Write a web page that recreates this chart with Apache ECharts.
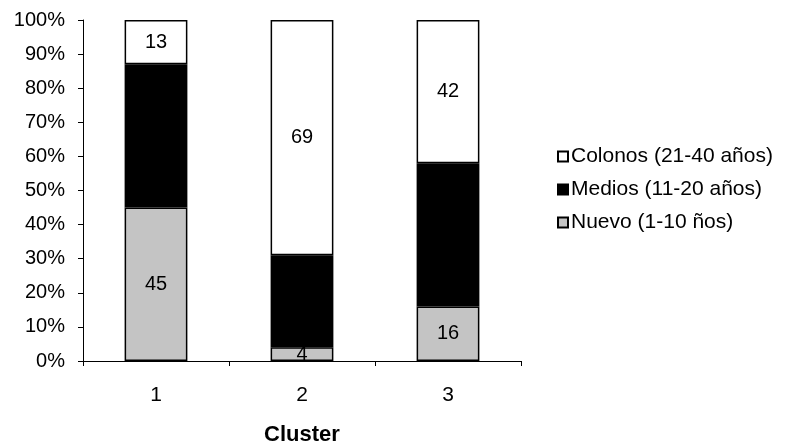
<!DOCTYPE html>
<html>
<head>
<meta charset="utf-8">
<script src="https://cdn.jsdelivr.net/npm/echarts@6/dist/echarts.min.js"></script>
<style>
  html, body { margin: 0; padding: 0; background: #fff; }
  #chart { width: 785px; height: 446px; }
</style>
</head>
<body>
<div id="chart"></div>
<script>
// Cluster composition by residence time (percent of each cluster)
const clusters = ['1', '2', '3'];
const nuevo = [45, 4, 16];
const medios = [42, 27, 42];
const colonos = [13, 69, 42];
const yTicks = ['0%', '10%', '20%', '30%', '40%', '50%', '60%', '70%', '80%', '90%', '100%'];

const FONT = 'Liberation Sans, Arial, sans-serif';

function seriesOf(name, data, fill, labelColor) {
  return {
    name: name,
    type: 'bar',
    stack: 'total',
    barWidth: '43%',
    data: data,
    itemStyle: { color: fill, borderColor: '#000', borderWidth: 1.5 },
    label: {
      show: true,
      position: 'inside',
      color: labelColor,
      fontFamily: FONT,
      fontSize: 20
    },
    emphasis: { disabled: true }
  };
}

const chart = echarts.init(document.getElementById('chart'), null, { renderer: 'canvas' });
chart.setOption({
  animation: false,
  backgroundColor: '#fff',
  grid: {
    left: 83, right: 264, top: 20, bottom: 85,
    containLabel: false,
    outerBoundsMode: 'none'
  },
  legend: {
    orient: 'vertical',
    left: 552,
    top: 141,
    itemWidth: 10,
    itemHeight: 10,
    itemGap: 12,
    icon: 'rect',
    data: ['Colonos (21-40 años)', 'Medios (11-20 años)', 'Nuevo (1-10 ños)'],
    textStyle: { color: '#000', fontFamily: FONT, fontSize: 21, padding: [0, 0, 0, -2] }
  },
  xAxis: {
    type: 'category',
    data: clusters,
    name: 'Cluster',
    nameLocation: 'middle',
    nameGap: 63,
    nameTextStyle: { color: '#000', fontFamily: FONT, fontSize: 22, fontWeight: 'bold' },
    axisLine: { lineStyle: { color: '#000', width: 1 } },
    axisTick: { show: true, length: 5, lineStyle: { color: '#000' } },
    axisLabel: { color: '#000', fontFamily: FONT, fontSize: 21, margin: 24 }
  },
  yAxis: {
    type: 'value',
    min: 0,
    max: 100,
    interval: 10,
    axisLine: { show: true, lineStyle: { color: '#000', width: 1 } },
    axisTick: { show: true, length: 5, lineStyle: { color: '#000' } },
    splitLine: { show: false },
    axisLabel: {
      color: '#000',
      fontFamily: FONT,
      fontSize: 20,
      margin: 18,
      formatter: function (v) { return yTicks[Math.round(v / 10)]; }
    }
  },
  series: [
    seriesOf('Nuevo (1-10 ños)', nuevo, '#c4c4c4', '#000'),
    seriesOf('Medios (11-20 años)', medios, '#000', '#000'),
    seriesOf('Colonos (21-40 años)', colonos, '#fff', '#000')
  ]
});
</script>
</body>
</html>
